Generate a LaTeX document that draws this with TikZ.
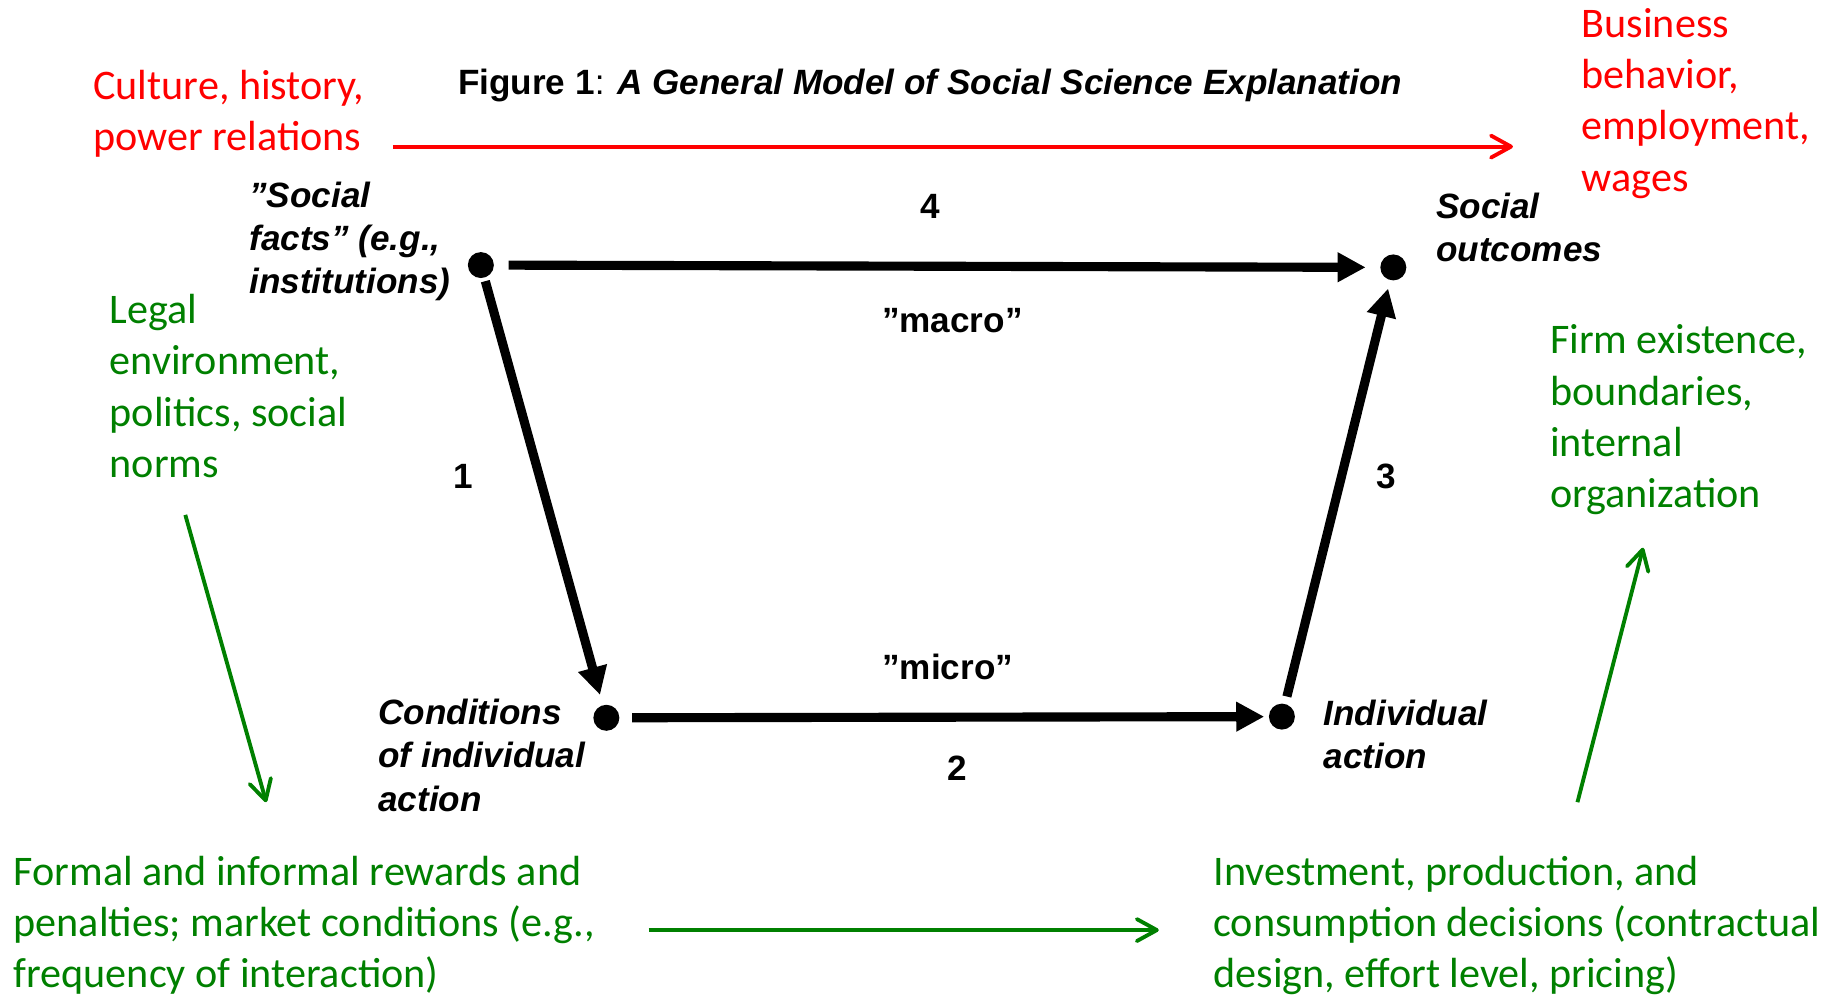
\documentclass[tikz,border=0pt]{standalone}
\usepackage{fontspec}
\setmainfont{Liberation Sans}
\newfontfamily\calibri{Carlito}
\usetikzlibrary{arrows.meta}
\definecolor{ctxred}{RGB}{255,0,0}
\definecolor{ctxgreen}{RGB}{0,128,0}
\tikzset{
  dot/.style={circle,fill,inner sep=0pt,minimum size=2.6mm},
  causal/.style={line width=2.6pt,-{Triangle[length=2.8mm,width=2.8mm]}},
  thin arrow/.style={line width=1.1pt,-{Straight Barb[length=2mm,width=2.2mm,round]}},
  lbl/.style={font=\bfseries\itshape\fontsize{10}{12.3}\selectfont,align=left,anchor=west,inner sep=0pt},
  num/.style={font=\bfseries\fontsize{10}{12.3}\selectfont,inner sep=0pt},
  ctx/.style={font=\calibri\fontsize{12}{14.6}\selectfont,align=left,anchor=west,inner sep=0pt}
}
\begin{document}
\begin{tikzpicture}[x=0.011728cm,y=-0.011728cm]
  \useasboundingbox (0,0) rectangle (1568,848);
  \node[lbl] (title) at (390,73) {{\upshape Figure 1}{\mdseries\upshape:} A General Model of Social Science Explanation};
  % the four states
  \node[dot] (facts) at (410,226) {};
  \node[dot] (outcomes) at (1188,228) {};
  \node[dot] (conditions) at (517,612) {};
  \node[dot] (action) at (1093,611) {};
  \node[lbl] (factslbl) at (212,206) {”Social\\facts” (e.g.,\\institutions)};
  \node[lbl] (outcomeslbl) at (1224,194) {Social\\outcomes};
  \node[lbl] (conditionslbl) at (322,644) {Conditions\\of individual\\action};
  \node[lbl] (actionlbl) at (1128,626) {Individual\\action};
  % numbers and levels
  \node[num] (n4) at (793,176) {4};
  \node[num] (macro) at (812,273) {”macro”};
  \node[num] (n1) at (395,406) {1};
  \node[num] (n3) at (1182,406) {3};
  \node[num] (micro) at (808,569) {”micro”};
  \node[num] (n2) at (816,655) {2};
  % context
  \node[ctx,text=ctxred] (culture) at (79,97) {Culture, history,\\power relations};
  \node[ctx,text=ctxred] (business) at (1348,88) {Business\\behavior,\\employment,\\wages};
  \node[ctx,text=ctxgreen] (legal) at (93,329) {Legal\\environment,\\politics, social\\norms};
  \node[ctx,text=ctxgreen] (firm) at (1321,358) {Firm existence,\\boundaries,\\internal\\organization};
  \node[ctx,text=ctxgreen] (rewards) at (11,789) {Formal and informal rewards and\\penalties; market conditions (e.g.,\\frequency of interaction)};
  \node[ctx,text=ctxgreen] (decisions) at (1034,789) {Investment, production, and\\consumption decisions (contractual\\design, effort level, pricing)};
  \coordinate (redstart) at (335,125);
  \coordinate (redend) at (1290,125);
  \coordinate (legalout) at (158,439);
  \coordinate (rewardsin) at (227,684);
  \coordinate (rewardsout) at (553,793);
  \coordinate (decisionsin) at (988,793);
  \coordinate (decisionsout) at (1345,684);
  \coordinate (firmin) at (1401,467);
  \begin{scope}
    \draw[causal,shorten <=1.4mm,shorten >=1.4mm] (facts) -- (outcomes);
    \draw[causal,shorten <=0.3mm,shorten >=1mm] (facts) -- (conditions);
    \draw[causal,shorten <=1.2mm,shorten >=0.4mm] (conditions) -- (action);
    \draw[causal,shorten <=0.7mm,shorten >=0.8mm] (action) -- (outcomes);
  \end{scope}
  \begin{scope}[thin arrow]
    \draw[ctxred] (redstart) -- (redend);
    \draw[ctxgreen] (legalout) -- (rewardsin);
    \draw[ctxgreen] (rewardsout) -- (decisionsin);
    \draw[ctxgreen] (decisionsout) -- (firmin);
  \end{scope}
\end{tikzpicture}
\end{document}
